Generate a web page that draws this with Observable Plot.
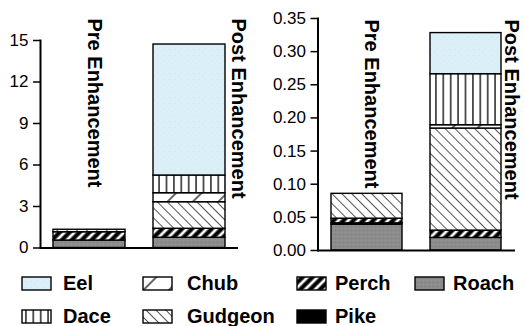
<!DOCTYPE html>
<html>
<head>
<meta charset="utf-8">
<script src="https://cdn.jsdelivr.net/npm/d3@7"></script>
<script src="https://cdn.jsdelivr.net/npm/@observablehq/plot@0.6"></script>
<style>
  html, body { margin: 0; padding: 0; background: #fff; }
  #chart { position: relative; width: 525px; height: 326px; overflow: hidden; font-family: "Liberation Sans", Arial, Helvetica, sans-serif; }
  #chart svg { position: absolute; }
</style>
</head>
<body>
<svg width="0" height="0" style="position:absolute">
  <defs>
    <pattern id="p-Eel" width="6" height="6" patternUnits="userSpaceOnUse">
      <rect width="6" height="6" fill="#daeff7"/>
      <rect x="1" y="1" width="1" height="1" fill="#cde5f0"/>
      <rect x="4" y="3" width="1" height="1" fill="#d2e8f2"/>
    </pattern>
    <pattern id="p-Dace" width="7.4" height="10" patternUnits="userSpaceOnUse">
      <rect width="7.4" height="10" fill="#fff"/>
      <line x1="3.7" y1="0" x2="3.7" y2="10" stroke="#000" stroke-width="1.3"/>
    </pattern>
    <pattern id="p-Chub" width="18" height="18" patternUnits="userSpaceOnUse" patternTransform="rotate(45)">
      <rect width="18" height="18" fill="#fff"/>
      <line x1="9" y1="0" x2="9" y2="18" stroke="#000" stroke-width="1.2"/>
    </pattern>
    <pattern id="p-Gudgeon" width="7" height="7" patternUnits="userSpaceOnUse" patternTransform="rotate(-45)">
      <rect width="7" height="7" fill="#fff"/>
      <line x1="3.5" y1="0" x2="3.5" y2="7" stroke="#555" stroke-width="1"/>
    </pattern>
    <pattern id="p-Perch" width="7" height="7" patternUnits="userSpaceOnUse" patternTransform="rotate(45)">
      <rect width="7" height="7" fill="#fff"/>
      <line x1="3.5" y1="0" x2="3.5" y2="7" stroke="#000" stroke-width="4.2"/>
    </pattern>
    <pattern id="p-Roach" width="4" height="4" patternUnits="userSpaceOnUse">
      <rect width="4" height="4" fill="#8c8c8c"/>
      <rect x="1" y="2" width="1" height="1" fill="#7e7e7e"/>
      <rect x="3" y="0" width="1" height="1" fill="#979797"/>
    </pattern>
    <pattern id="p-Pike" width="4" height="4" patternUnits="userSpaceOnUse">
      <rect width="4" height="4" fill="#000"/>
    </pattern>
  </defs>
</svg>
<div id="chart"></div>
<script>
// ---- data ----
const species = ["Roach", "Pike", "Perch", "Gudgeon", "Chub", "Dace", "Eel"]; // stacking order, bottom → top
const periods = ["Pre Enhancement", "Post Enhancement"];
const leftPre   = [0.54, 0,     0.60,  0.18,   0,     0,     0];
const leftPost  = [0.74, 0,     0.65,  1.92,   0.65,  1.28,  9.47];
const rightPre  = [0.039, 0.002, 0.007, 0.0375, 0,     0,     0];
const rightPost = [0.019, 0,     0.011, 0.154,  0.005, 0.077, 0.062];
const leftTicks  = [0, 3, 6, 9, 12, 15];
const rightTicks = [0, 0.05, 0.10, 0.15, 0.20, 0.25, 0.30, 0.35];
const legendOrder = ["Eel", "Chub", "Perch", "Roach", "Dace", "Gudgeon", "Pike"];

const FONT = '"Liberation Sans", Arial, Helvetica, sans-serif';

function rowsFor(pre, post) {
  const rows = [];
  [pre, post].forEach((vals, pi) => {
    species.forEach((s, si) => {
      if (vals[si] > 0) rows.push({period: periods[pi], species: s, value: vals[si]});
    });
  });
  return rows;
}

function panel({rows, domain, ticks, fmt, width, marginLeft, marginRight, marginTop, marginBottom, labelDy, labelDx}) {
  return Plot.plot({
    width, height: 262,
    marginLeft, marginRight, marginTop, marginBottom,
    x: {domain: periods, paddingInner: 0.28, paddingOuter: 0.13, axis: null},
    y: {domain, axis: null},
    color: {domain: species, range: species.map(s => `url(#p-${s})`)},
    style: {fontFamily: FONT, fontSize: "17px", color: "#000", background: "transparent", overflow: "visible"},
    marks: [
      Plot.barY(rows, {x: "period", y: "value", fill: "species", stroke: "#000", strokeWidth: 1.4}),
      Plot.axisY({ticks, tickFormat: fmt, tickSize: 7, tickPadding: 5, strokeWidth: 1.5, label: null, fontSize: 17}),
      Plot.frame({anchor: "left", strokeWidth: 2}),
      Plot.ruleY([0], {strokeWidth: 2}),
      Plot.text([periods[0]], {x: d => d, text: d => d, rotate: 90, frameAnchor: "top", textAnchor: "start",
        dx: labelDx[0], dy: labelDy, fontSize: 20, fontWeight: "bold"}),
      Plot.text([periods[1]], {x: d => d, text: d => d, rotate: 90, frameAnchor: "top", textAnchor: "start",
        dx: labelDx[1], dy: labelDy, fontSize: 20, fontWeight: "bold"})
    ]
  });
}

const chart = document.getElementById("chart");

const left = panel({
  rows: rowsFor(leftPre, leftPost), domain: [0, 15], ticks: leftTicks, fmt: d3.format("d"),
  width: 262, marginLeft: 40, marginRight: 24, marginTop: 40, marginBottom: 14.5, labelDy: -22, labelDx: [13, 57]
});
left.style.left = "0px"; left.style.top = "0px";
chart.appendChild(left);

const right = panel({
  rows: rowsFor(rightPre, rightPost), domain: [0, 0.35], ticks: rightTicks, fmt: d3.format(".2f"),
  width: 263, marginLeft: 55.5, marginRight: 10, marginTop: 18, marginBottom: 12, labelDy: 1, labelDx: [12, 53]
});
right.style.left = "262px"; right.style.top = "0px";
chart.appendChild(right);

// ---- legend ----
const colSw = [22, 143, 297, 415];
const colTx = [63, 187, 335, 453];
const leg = d3.create("svg").attr("width", 525).attr("height", 60)
  .style("left", "0px").style("top", "268px");
legendOrder.forEach((s, i) => {
  const r = i < 4 ? 0 : 1, c = i < 4 ? i : i - 4;
  const y0 = r === 0 ? 9 : 42;
  leg.append("rect").attr("x", colSw[c]).attr("y", y0).attr("width", 29).attr("height", 13)
    .attr("fill", `url(#p-${s})`).attr("stroke", "#000").attr("stroke-width", 1.4);
  leg.append("text").attr("x", colTx[c]).attr("y", y0 + 13)
    .attr("font-family", FONT).attr("font-size", 20).attr("font-weight", "bold").text(s);
});
chart.appendChild(leg.node());
</script>
</body>
</html>
